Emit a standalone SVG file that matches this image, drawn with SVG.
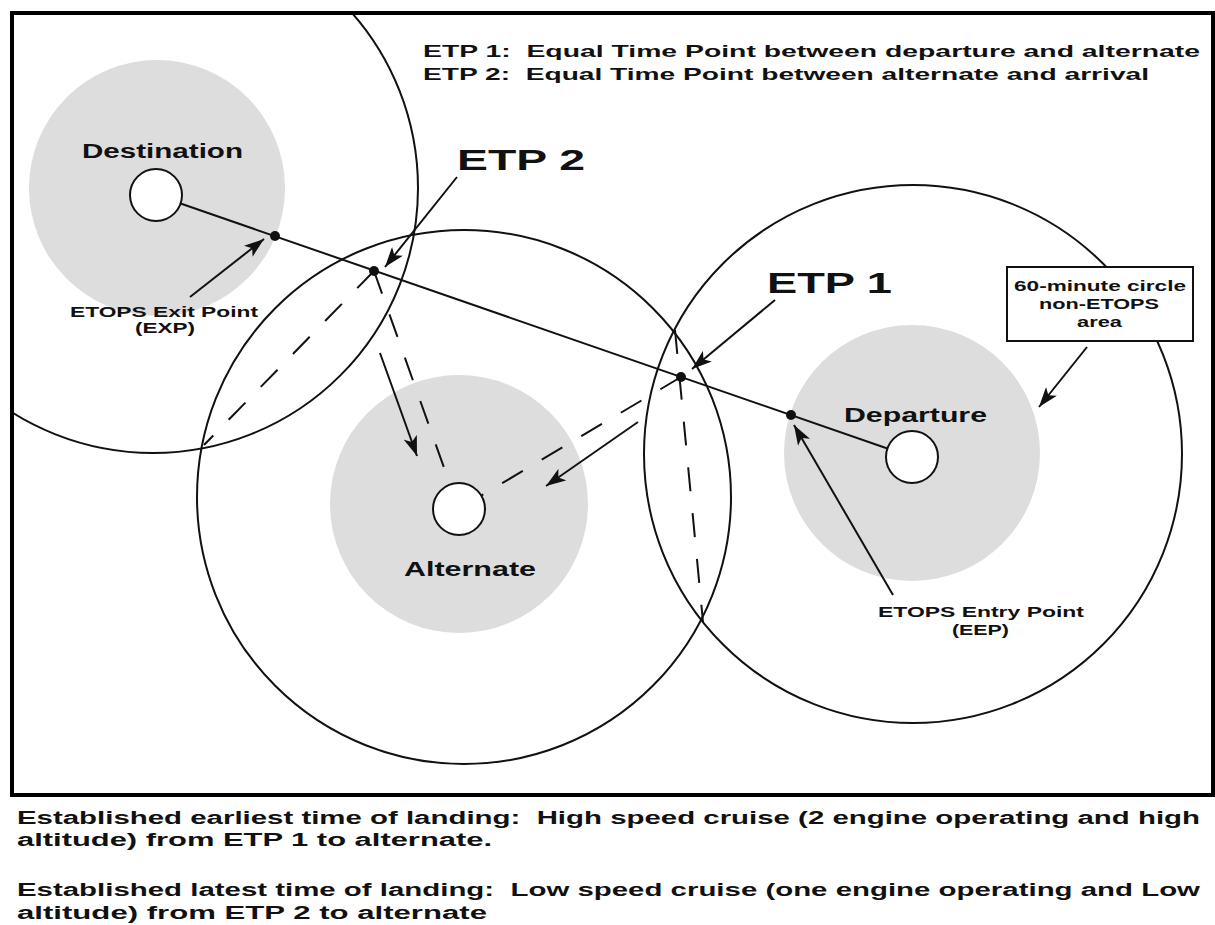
<svg xmlns="http://www.w3.org/2000/svg" width="1215" height="925" viewBox="0 0 1215 925">
  <style>
    .zone { fill: #dddddd; stroke: none; }
    .range { fill: none; stroke: #111; stroke-width: 2; }
    .apt { fill: #fff; stroke: #111; stroke-width: 2; }
    .route { fill: none; stroke: #111; stroke-width: 2; }
    .dash { fill: none; stroke: #111; stroke-width: 2; stroke-dasharray: 24 22; }
    .arrow { fill: none; stroke: #111; stroke-width: 2; marker-end: url(#head); }
    .dot { fill: #111; }
    text { font-family: "Liberation Sans", Arial, sans-serif; font-weight: bold; fill: #111; }
    .lbl { font-size: 20px; }
    .big { font-size: 30px; }
    .sm { font-size: 15px; }
    .hdr { font-size: 17px; }
    .foot { font-size: 18px; }
  </style>
  <defs>
    <marker id="head" viewBox="0 0 20 14" refX="20" refY="7" markerWidth="20" markerHeight="14" markerUnits="userSpaceOnUse" orient="auto">
      <path d="M0,0 L20,7 L0,14 L5,7 Z" fill="#111"/>
    </marker>
    <clipPath id="inside">
      <rect x="12" y="13" width="1201" height="782"/>
    </clipPath>
  </defs>

  <rect width="1215" height="925" fill="#fff"/>

  <g id="destination">
    <circle class="zone" cx="157" cy="188" r="128"/>
    <circle class="range" cx="153" cy="188" r="265" clip-path="url(#inside)"/>
    <circle class="apt" cx="156" cy="195" r="26"/>
    <text class="lbl" x="82" y="158" textLength="161" lengthAdjust="spacingAndGlyphs">Destination</text>
  </g>

  <g id="alternate">
    <circle class="zone" cx="459" cy="504" r="129"/>
    <circle class="range" cx="464" cy="497" r="267" clip-path="url(#inside)"/>
    <circle class="apt" cx="459" cy="509" r="26"/>
    <text class="lbl" x="404" y="576" textLength="132" lengthAdjust="spacingAndGlyphs">Alternate</text>
  </g>

  <g id="departure">
    <circle class="zone" cx="912" cy="453" r="128"/>
    <circle class="range" cx="913" cy="454" r="269" clip-path="url(#inside)"/>
    <circle class="apt" cx="912" cy="457" r="26"/>
    <text class="lbl" x="844" y="422" textLength="143" lengthAdjust="spacingAndGlyphs">Departure</text>
  </g>

  <g id="connectors">
    <line class="route" x1="180.6" y1="203.5" x2="887.4" y2="448.5"/>
    <line class="dash" x1="374" y1="271" x2="204" y2="445"/>
    <line class="dash" x1="374" y1="271" x2="450" y2="484.5"/>
    <line class="dash" x1="675" y1="330" x2="703" y2="622"/>
    <line class="dash" x1="681" y1="377" x2="481.3" y2="495.6"/>
    <line class="arrow" x1="457" y1="177" x2="385" y2="267"/>
    <line class="arrow" x1="190" y1="297" x2="264" y2="239"/>
    <line class="arrow" x1="380" y1="353" x2="417" y2="456"/>
    <line class="arrow" x1="638" y1="422" x2="546" y2="486"/>
    <line class="arrow" x1="775" y1="300" x2="692" y2="369"/>
    <line class="arrow" x1="1087" y1="347" x2="1039" y2="407"/>
    <line class="arrow" x1="893" y1="595" x2="794" y2="425"/>
  </g>

  <g id="points">
    <circle class="dot" cx="275" cy="236" r="5"/>
    <circle class="dot" cx="374" cy="271" r="5"/>
    <circle class="dot" cx="681" cy="377" r="5"/>
    <circle class="dot" cx="791" cy="415" r="5"/>
  </g>

  <g id="etp2-label">
    <text class="big" x="457" y="170" textLength="128" lengthAdjust="spacingAndGlyphs" xml:space="preserve">ETP 2</text>
  </g>
  <g id="etp1-label">
    <text class="big" x="767" y="293" textLength="125" lengthAdjust="spacingAndGlyphs" xml:space="preserve">ETP 1</text>
  </g>
  <g id="exp-label">
    <text class="sm" x="70" y="317" textLength="188" lengthAdjust="spacingAndGlyphs">ETOPS Exit Point</text>
    <text class="sm" x="135" y="333" textLength="60" lengthAdjust="spacingAndGlyphs">(EXP)</text>
  </g>
  <g id="eep-label">
    <text class="sm" x="878" y="617" textLength="206" lengthAdjust="spacingAndGlyphs">ETOPS Entry Point</text>
    <text class="sm" x="952" y="635" textLength="57" lengthAdjust="spacingAndGlyphs">(EEP)</text>
  </g>
  <g id="sixty-minute-box">
    <rect x="1007" y="267" width="186" height="74" fill="#fff" stroke="#111" stroke-width="2"/>
    <text class="sm" x="1014" y="291" textLength="172" lengthAdjust="spacingAndGlyphs">60-minute circle</text>
    <text class="sm" x="1039" y="309" textLength="120" lengthAdjust="spacingAndGlyphs">non-ETOPS</text>
    <text class="sm" x="1077" y="327" textLength="45" lengthAdjust="spacingAndGlyphs">area</text>
  </g>
  <g id="legend">
    <text class="hdr" x="423" y="57" textLength="777" lengthAdjust="spacingAndGlyphs" xml:space="preserve">ETP 1:  Equal Time Point between departure and alternate</text>
    <text class="hdr" x="423" y="80" textLength="726" lengthAdjust="spacingAndGlyphs" xml:space="preserve">ETP 2:  Equal Time Point between alternate and arrival</text>
  </g>

  <g id="frame">
    <rect x="12" y="13" width="1201" height="782" fill="none" stroke="#000" stroke-width="4"/>
  </g>

  <g id="notes">
    <text class="foot" x="17" y="824" textLength="1183" lengthAdjust="spacingAndGlyphs" xml:space="preserve">Established earliest time of landing:  High speed cruise (2 engine operating and high</text>
    <text class="foot" x="17" y="846" textLength="475" lengthAdjust="spacingAndGlyphs">altitude) from ETP 1 to alternate.</text>
    <text class="foot" x="17" y="896" textLength="1183" lengthAdjust="spacingAndGlyphs" xml:space="preserve">Established latest time of landing:  Low speed cruise (one engine operating and Low</text>
    <text class="foot" x="17" y="919" textLength="470" lengthAdjust="spacingAndGlyphs">altitude) from ETP 2 to alternate</text>
  </g>
</svg>
